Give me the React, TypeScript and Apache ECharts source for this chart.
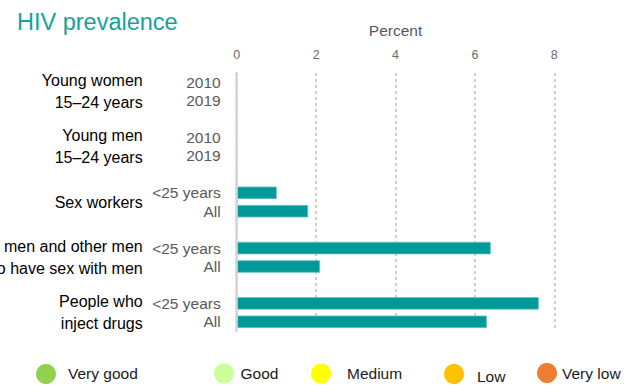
import React, { useEffect, useRef } from "react";
import * as echarts from "echarts";

// ---- data ----
const groups: string[] = [
  "Young women\n15–24 years",
  "Young men\n15–24 years",
  "Sex workers",
  "Gay men and other men\nwho have sex with men",
  "People who\ninject drugs",
];
const subLabels: string[][] = [
  ["2010", "2019"],
  ["2010", "2019"],
  ["<25 years", "All"],
  ["<25 years", "All"],
  ["<25 years", "All"],
];
const prevalence: (number | null)[][] = [
  [null, null],
  [null, null],
  [1.01, 1.8],
  [6.4, 2.1],
  [7.61, 6.3],
];
const xTicks = { min: 0, max: 8, interval: 2 };
const legendLabels = ["Very good", "Good", "Medium", "Low", "Very low"];
const legendColors = ["#92d050", "#ccff99", "#ffff00", "#ffc000", "#ed7d31"];

// ---- layout (not data) ----
const legendLayout = [
  { cx: 46, cy: 374, tx: 68, ty: 373 },
  { cx: 224, cy: 373.5, tx: 240.5, ty: 373 },
  { cx: 321, cy: 373.5, tx: 347, ty: 373 },
  { cx: 454, cy: 374, tx: 477, ty: 376 },
  { cx: 547, cy: 373, tx: 562, ty: 373 },
];

const FONT = "'Liberation Sans', Arial, Helvetica, sans-serif";

export default function App() {
  const ref = useRef<HTMLDivElement>(null);

  useEffect(() => {
    if (!ref.current) return;
    const chart = echarts.init(ref.current, undefined, { renderer: "svg" });

    const rowIds: string[] = [];
    const rowLabels: string[] = [];
    const rowValues: (number | null)[] = [];
    const groupCenters: number[] = [];
    groups.forEach((g, gi) => {
      const start = rowIds.length;
      subLabels[gi].forEach((s, si) => {
        rowIds.push("r" + rowIds.length);
        rowLabels.push(s);
        rowValues.push(prevalence[gi][si]);
      });
      groupCenters.push((start + rowIds.length - 1) / 2);
      if (gi < groups.length - 1) {
        rowIds.push("r" + rowIds.length);
        rowLabels.push("");
        rowValues.push(null);
      }
    });

    const graphic: any[] = [];
    legendLabels.forEach((lab, i) => {
      const p = legendLayout[i];
      graphic.push({
        type: "circle",
        shape: { cx: p.cx, cy: p.cy, r: 10 },
        style: { fill: legendColors[i] },
      });
      graphic.push({
        type: "text",
        x: p.tx,
        y: p.ty,
        style: {
          text: lab,
          fontSize: 15.5,
          fontFamily: FONT,
          fill: "#1a1a1a",
          verticalAlign: "middle",
          align: "left",
        },
      });
    });

    chart.setOption({
      animation: false,
      textStyle: { fontFamily: FONT },
      title: {
        text: "HIV prevalence",
        left: 12,
        top: 5,
        textStyle: {
          fontFamily: FONT,
          fontSize: 23.5,
          fontWeight: "normal",
          color: "#17a19b",
        },
      },
      grid: {
        left: 236.7,
        right: 83.7,
        top: 73,
        bottom: 54,
        containLabel: false,
        outerBoundsMode: "none",
      },
      xAxis: {
        type: "value",
        position: "top",
        min: xTicks.min,
        max: xTicks.max,
        interval: xTicks.interval,
        name: "Percent",
        nameLocation: "middle",
        nameGap: 35,
        nameTextStyle: { fontSize: 15.5, color: "#595959", fontFamily: FONT },
        axisLine: { show: false },
        axisTick: { show: false },
        axisLabel: { color: "#6b6b6b", fontSize: 12.5, margin: 12, fontFamily: FONT },
        splitLine: {
          show: true,
          lineStyle: { color: "#cfcfcf", width: 2, type: [3, 3] },
        },
      },
      yAxis: [
        {
          type: "category",
          data: rowIds,
          inverse: true,
          position: "left",
          z: 5,
          axisLine: { show: true, lineStyle: { color: "#d4d4d4", width: 2.5 } },
          axisTick: { show: false },
          splitLine: { show: false },
          axisLabel: {
            interval: 0,
            margin: 16,
            color: "#595959",
            fontSize: 15.5,
            fontFamily: FONT,
            formatter: (_v: string, i: number) => rowLabels[i],
          },
        },
        {
          type: "value",
          inverse: true,
          position: "left",
          min: -0.5,
          max: rowIds.length - 0.5,
          axisLine: { show: false },
          axisTick: { show: false },
          splitLine: { show: false },
          axisLabel: {
            customValues: groupCenters,
            margin: 94,
            color: "#000000",
            fontSize: 16,
            lineHeight: 21.5,
            align: "right",
            fontFamily: FONT,
            formatter: (v: number) => {
              const idx = groupCenters.findIndex((c) => Math.abs(c - v) < 0.01);
              return idx >= 0 ? groups[idx] : "";
            },
          },
        },
      ],
      series: [
        {
          type: "bar",
          xAxisIndex: 0,
          yAxisIndex: 0,
          data: rowValues,
          barWidth: 12.5,
          itemStyle: { color: "#00999a", borderColor: "#6cc4c2", borderWidth: 0.8 },
        },
      ],
      graphic,
    });

    return () => chart.dispose();
  }, []);

  return (
    <div
      ref={ref}
      style={{ position: "fixed", left: 0, top: 0, width: 638, height: 385, background: "#ffffff" }}
    />
  );
}
